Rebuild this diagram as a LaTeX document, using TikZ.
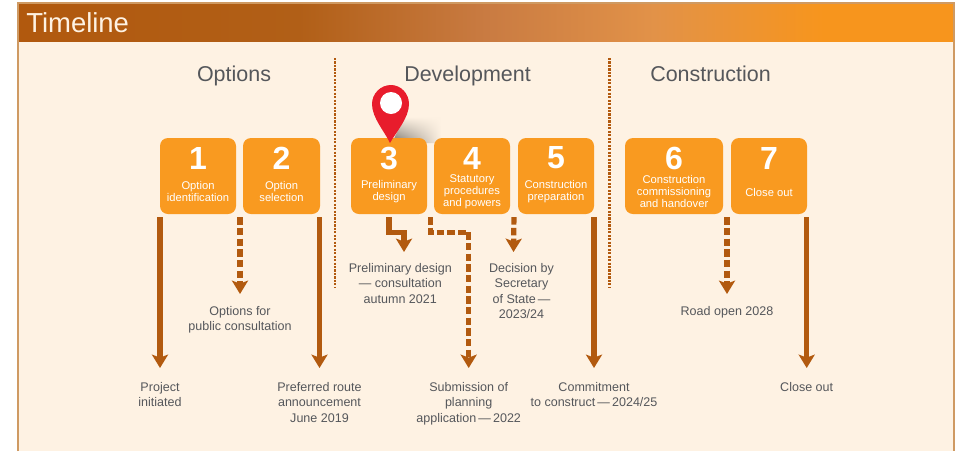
\documentclass[tikz,border=0pt]{standalone}
\usepackage{fontspec}
\setmainfont{Liberation Sans}
\usetikzlibrary{calc}
\usetikzlibrary{arrows.meta}
\usetikzlibrary{fadings}
\definecolor{panelfill}{HTML}{FEF2E3}
\definecolor{panelline}{HTML}{CF9A63}
\definecolor{brownline}{HTML}{B25A0F}
\definecolor{stepfill}{HTML}{F99A20}
\definecolor{greytext}{HTML}{55575B}
\definecolor{pinred}{HTML}{E81C2C}
\definecolor{hdrA}{HTML}{B1590E}
\definecolor{hdrB}{HTML}{B15F17}
\definecolor{hdrC}{HTML}{C97B42}
\definecolor{hdrD}{HTML}{E29248}
\definecolor{hdrE}{HTML}{F7951D}
\definecolor{shadowgrey}{HTML}{6F6B64}
\pgfdeclarehorizontalshading{timelineshade}{100bp}{color(0bp)=(hdrA); color(25bp)=(hdrA); color(40bp)=(hdrB); color(50bp)=(hdrC); color(59bp)=(hdrD); color(68bp)=(hdrE); color(75bp)=(hdrE); color(100bp)=(hdrE)}
\tikzset{
  stepbox/.style={draw=none, fill=stepfill, rounded corners=6pt, minimum height=57pt, inner sep=0pt},
  stepnum/.style={text=white, inner sep=0pt, font=\fontsize{24}{24}\bfseries\selectfont},
  steptext/.style={text=white, inner sep=0pt, align=center, font=\fontsize{8.4}{9}\selectfont},
  headlbl/.style={text=greytext, anchor=base, inner sep=0pt, font=\fontsize{16.1}{18}\selectfont},
  lablnode/.style={text=greytext, anchor=north, inner xsep=0pt, inner ysep=#1*0.75pt, align=center, font=\fontsize{9.4}{11.5}\selectfont},
  lablnode/.default=14,
  solidarrow/.style={draw=brownline, line width=3.9pt, shorten <=2.2pt, -{Stealth[length=10pt,width=12pt,inset=2.2pt]}},
  dasharrow/.style={solidarrow, dash pattern=on 5.6pt off 2.4pt},
  divider/.style={draw=brownline, line width=1.6pt, dash pattern=on 1.6pt off 1pt}
}
% name, x, width, y of text, text
\newcommand{\stepcard}[5]{
  \node[stepbox, minimum width=#3*0.75pt] (box#1) at (#2,176) {};
  \node[stepnum] (num#1) at (#2,158) {#1};
  \node[steptext] (txt#1) at (#2,#4) {#5};
}
\begin{document}
\begin{tikzpicture}[x=0.75pt,y=-0.75pt]
  \useasboundingbox (0,0) rectangle (955,451);
  % panel
  \fill[panelfill] (18,3) rectangle (954,451);
  \shade[shading=timelineshade] (18,3) rectangle (954,41);
  \draw[panelline, line width=1.2pt] (18,451) -- (18,3) -- (954,3) -- (954,451);
  \node[text=panelfill, anchor=west, inner sep=0pt, font=\fontsize{20.6}{22}\selectfont] (title) at (26,23) {Timeline};
  % phases
  \node[headlbl] (options) at (234,81.5) {Options};
  \node[headlbl] (development) at (467.5,81.5) {Development};
  \node[headlbl] (construction) at (710.5,81.5) {Construction};
  % dividers
  \coordinate (divAtop) at (335,58);
  \coordinate (divAend) at (335,287);
  \coordinate (divBtop) at (609.5,58);
  \coordinate (divBend) at (609.5,287);
  \draw[divider] (divAtop) -- (divAend);
  \draw[divider] (divBtop) -- (divBend);
  % pin shadow
  \shade[left color=shadowgrey, right color=panelfill, path fading=north] (392,143) -- (404,117) -- (441,117) -- (441,143) -- cycle;
  % steps
  \stepcard{1}{198}{76}{191.5}{Option\\identification}
  \stepcard{2}{281.5}{77}{191.5}{Option\\selection}
  \stepcard{3}{389}{76}{191.5}{Preliminary\\design}
  \stepcard{4}{472}{76}{191.5}{Statutory\\procedures\\and powers}
  \stepcard{5}{556}{76}{191.5}{Construction\\preparation}
  \stepcard{6}{674}{98}{191.5}{Construction\\commissioning\\and handover}
  \stepcard{7}{769}{76}{192}{Close out}
  % pin
  \fill[pinred] (390,143) .. controls (385,132) and (372,118) .. (372,104) .. controls (372,93.7) and (380.5,85) .. (391,85) .. controls (401,85) and (409,93.7) .. (409,104) .. controls (409,118) and (396,132) .. (390,143) -- cycle;
  \fill[white] (391,103) circle[radius=11];
  % labels
  \node[lablnode] (project) at (160,368) {Project\\initiated};
  \node[lablnode=12] (consult) at (240,294) {Options for\\public consultation};
  \node[lablnode] (preferred) at (319.5,368) {Preferred route\\announcement\\June 2019};
  \node[lablnode=0] (prelim) at (400.3,263) {Preliminary design\\— consultation\\autumn 2021};
  \node[lablnode] (submission) at (468.7,368) {Submission of\\planning\\application\,—\,2022};
  \node[lablnode=0] (decision) at (521.5,263) {Decision by\\Secretary\\of State\,—\\2023/24};
  \node[lablnode] (commit) at (594,368) {Commitment\\to construct\,—\,2024/25};
  \node[lablnode=12] (road) at (727,294) {Road open 2028};
  \node[lablnode] (closeout) at (806.7,368) {Close out};
  % tips away from the labels
  \coordinate (gapB) at ($(box3.south east)!0.5!(box4.south west)$);
  \coordinate (gapC) at ($(box4.south east)!0.5!(box5.south west)$);
  \coordinate (tipPrelim) at (404,252);
  \coordinate (tipDecision) at (513.5,252);
  % arrows
  \draw[solidarrow] (project.north |- box1.south) -- (project.north);
  \draw[dasharrow] (consult.north |- box1.south) -- (consult.north);
  \draw[solidarrow] (preferred.north |- box2.south) -- (preferred.north);
  \draw[solidarrow] (box3.south) -- ++(0,18) -| (tipPrelim);
  \draw[dasharrow] (gapB) -- ++(0,18) -| (submission.north);
  \draw[dasharrow] (gapC) -- (tipDecision);
  \draw[solidarrow] (commit.north |- box5.south) -- (commit.north);
  \draw[dasharrow] (road.north |- box6.south) -- (road.north);
  \draw[solidarrow] (closeout.north |- box7.south) -- (closeout.north);
\end{tikzpicture}
\end{document}
